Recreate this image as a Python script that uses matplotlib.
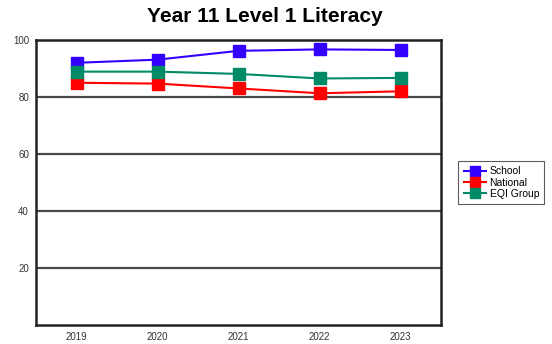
import matplotlib.pyplot as plt

plt.rcParams['font.family'] = ['Liberation Sans', 'DejaVu Sans']

# data
years = ['2019', '2020', '2021', '2022', '2023']
school = [92.0, 93.1, 96.2, 96.7, 96.5]
national = [85.0, 84.7, 83.0, 81.3, 82.0]
eqi_group = [88.9, 88.9, 88.1, 86.5, 86.7]

fig = plt.figure(figsize=(5.52, 3.44), dpi=100)
ax = fig.add_axes([36 / 552, 19 / 344, 405 / 552, 285 / 344])

x = range(len(years))
ax.plot(x, school, color='#3300ff', marker='s', markersize=8.5, lw=1.5, label='School')
ax.plot(x, national, color='#ff0000', marker='s', markersize=8.5, lw=1.5, label='National')
ax.plot(x, eqi_group, color='#008a66', marker='s', markersize=8.5, lw=1.5, label='EQI Group')

ax.set_xlim(-0.5, 4.5)
ax.set_ylim(0, 100)
ax.set_xticks(list(x))
ax.set_xticklabels(years)
ax.set_yticks([20, 40, 60, 80, 100])
ax.tick_params(length=0, labelsize=7, colors='#333333', pad=5)
for y in [20, 40, 60, 80]:
    ax.axhline(y, color='#4a4a4a', lw=1.6, zorder=0)
for s in ax.spines.values():
    s.set_linewidth(1.8)
    s.set_color('#222222')

fig.suptitle('Year 11 Level 1 Literacy', x=265 / 552, y=0.98, fontsize=15, fontweight='bold')

leg = ax.legend(loc='center left', bbox_to_anchor=(1.03, 0.5), fontsize=7.5,
                frameon=True, fancybox=False, edgecolor='#333333', markerscale=0.9,
                handlelength=2.2, handletextpad=0.3, labelspacing=0.1, borderpad=0.5)
leg.get_frame().set_linewidth(0.8)

fig.savefig('out.png', dpi=100)
